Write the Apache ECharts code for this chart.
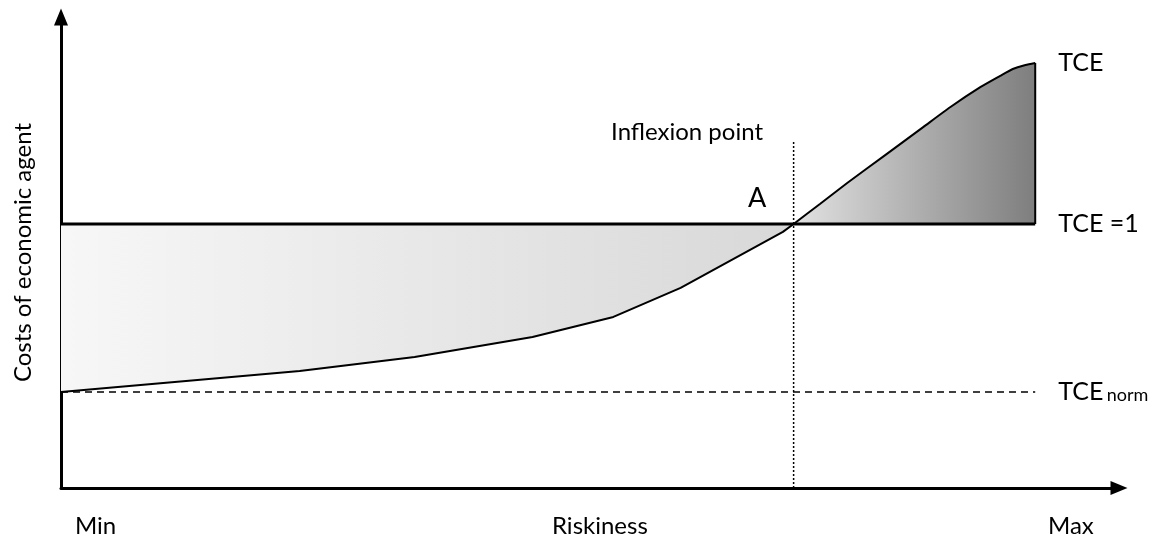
<!DOCTYPE html>
<html>
<head>
<meta charset="utf-8">
<script src="https://cdn.jsdelivr.net/npm/echarts@6/dist/echarts.min.js"></script>
<style>
  html, body { margin: 0; padding: 0; background: #fff; }
  #chart { width: 1170px; height: 539px; }
</style>
</head>
<body>
<div id="chart"></div>
<script>
// riskiness runs 0 (Min) .. 100 (end of curve); costs in TCE units (TCE = 1 line)
const belowX = [0, 24.5, 36.3, 48.4, 56.7, 63.6, 74.1, 75.2]
const belowY = [0.364, 0.443, 0.496, 0.572, 0.648, 0.758, 0.97, 1]
const aboveX = [75.2, 77.9, 80.7, 84.6, 88.5, 91.3, 94.4, 96.4, 97.7, 99.0, 100]
const aboveY = [1, 1.076, 1.155, 1.261, 1.367, 1.443, 1.519, 1.561, 1.587, 1.602, 1.61]
const tceOne = 1
const tceNorm = 0.364
const inflexionX = 75.2
const inflexionTop = 1.318
const xMax = 108.6
const yMax = 1.784

const FONT = 'Lato, "Open Sans", sans-serif'

const zip = (xs, ys) => xs.map((x, i) => [x, ys[i]])
const lastX = aboveX[aboveX.length - 1]
const lastY = aboveY[aboveY.length - 1]

const chart = echarts.init(document.getElementById('chart'))

chart.setOption({
  animation: false,
  /* 绘图区 */
  grid: { left: 61, right: 51, top: 17, bottom: 51 },
  xAxis: {
    type: 'value',
    min: 0,
    max: xMax,
    axisLine: {
      lineStyle: { color: '#000', width: 3 },
      symbol: ['none', 'triangle'],
      symbolSize: [14, 17]
    },
    axisTick: { show: false },
    axisLabel: { show: false },
    splitLine: { show: false }
  },
  yAxis: {
    type: 'value',
    min: 0,
    max: yMax,
    name: 'Costs of economic agent',
    nameLocation: 'middle',
    nameRotate: 90,
    nameGap: 26,
    nameTextStyle: { fontFamily: FONT, fontSize: 24, color: '#000' },
    axisLine: {
      lineStyle: { color: '#000', width: 3 },
      symbol: ['none', 'triangle'],
      symbolSize: [14, 17]
    },
    axisTick: { show: false },
    axisLabel: { show: false },
    splitLine: { show: false }
  },
  series: [
    // curve below TCE = 1, filled up to the line
    {
      type: 'line',
      data: zip(belowX, belowY),
      symbol: 'none',
      lineStyle: { color: '#000', width: 2 },
      areaStyle: {
        origin: tceOne,
        opacity: 1,
        color: new echarts.graphic.LinearGradient(0, 0, 1, 0, [
          { offset: 0, color: '#f7f7f7' },
          { offset: 1, color: '#d8d8d8' }
        ])
      },
      z: 2
    },
    // curve above TCE = 1
    {
      type: 'line',
      data: zip(aboveX, aboveY),
      symbol: 'none',
      smooth: 0.2,
      lineStyle: { color: '#000', width: 2 },
      areaStyle: {
        origin: tceOne,
        opacity: 1,
        color: new echarts.graphic.LinearGradient(0, 0, 1, 0, [
          { offset: 0, color: '#e2e2e2' },
          { offset: 1, color: '#7e7e7e' }
        ])
      },
      endLabel: {
        show: true,
        formatter: 'TCE',
        distance: 23,
        fontFamily: FONT,
        fontSize: 25,
        color: '#000'
      },
      z: 2
    },
    // right edge of the upper area
    {
      type: 'line',
      data: [[lastX, lastY], [lastX, tceOne]],
      symbol: 'none',
      lineStyle: { color: '#000', width: 2 },
      z: 3
    },
    // TCE = 1
    {
      type: 'line',
      data: [[0, tceOne], [lastX, tceOne]],
      symbol: 'none',
      lineStyle: { color: '#000', width: 3 },
      endLabel: {
        show: true,
        formatter: 'TCE =1',
        distance: 23,
        fontFamily: FONT,
        fontSize: 25,
        color: '#000'
      },
      z: 4
    },
    // TCE norm
    {
      type: 'line',
      data: [[0, tceNorm], [lastX, tceNorm]],
      symbol: 'none',
      lineStyle: { color: '#000', width: 1.5, type: [7, 5] },
      endLabel: {
        show: true,
        formatter: '{a|TCE} {b|norm}',
        distance: 23,
        color: '#000',
        rich: {
          a: { fontFamily: FONT, fontSize: 25, color: '#000' },
          b: { fontFamily: FONT, fontSize: 18, color: '#000', padding: [6, 0, 0, 0] }
        }
      },
      z: 1
    },
    // inflexion point marker line
    {
      type: 'line',
      data: [[inflexionX, 0], [inflexionX, inflexionTop]],
      symbol: 'none',
      lineStyle: { color: '#000', width: 1.5, type: [2, 2] },
      z: 5
    }
  ],
  /* 文字标注 */
  graphic: [
    { type: 'text', x: 75, y: 526, style: { text: 'Min', font: '24px ' + FONT, fill: '#000', verticalAlign: 'middle' } },
    { type: 'text', x: 552, y: 526, style: { text: 'Riskiness', font: '24px ' + FONT, fill: '#000', verticalAlign: 'middle' } },
    { type: 'text', x: 1048, y: 526, style: { text: 'Max', font: '24px ' + FONT, fill: '#000', verticalAlign: 'middle' } },
    { type: 'text', x: 763, y: 132, style: { text: 'Inflexion point', font: '24px ' + FONT, fill: '#000', align: 'right', verticalAlign: 'middle' } },
    { type: 'text', x: 748, y: 198, style: { text: 'A', font: '27px ' + FONT, fill: '#000', verticalAlign: 'middle' } }
  ]
})
</script>
</body>
</html>
